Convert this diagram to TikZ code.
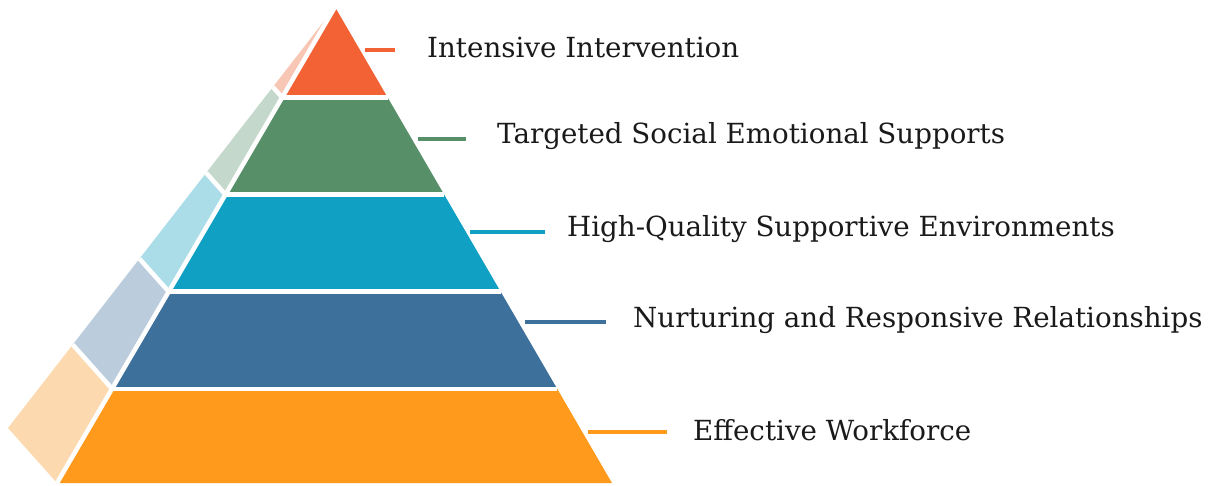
\documentclass[tikz,border=0pt]{standalone}
\usepackage{fontspec}
\setmainfont{DejaVu Serif}
\usetikzlibrary{calc}
\definecolor{cA}{HTML}{F26235}\definecolor{lA}{HTML}{F8C6B5}
\definecolor{cB}{HTML}{578F68}\definecolor{lB}{HTML}{C4D8CB}
\definecolor{cC}{HTML}{10A0C4}\definecolor{lC}{HTML}{ABDDE8}
\definecolor{cD}{HTML}{3D719C}\definecolor{lD}{HTML}{BBCCDD}
\definecolor{cE}{HTML}{FF9A1C}\definecolor{lE}{HTML}{FCD9AE}
\definecolor{txt}{HTML}{1A1A1A}
\begin{document}
\begin{tikzpicture}[x=1pt,y=-1pt,
  gap/.style={draw=white,line width=4.5pt},
  conn/.style={line width=4pt},
  lbl/.style={anchor=west,inner sep=0pt,text=txt,font=\fontsize{27.7}{32}\selectfont}]
\useasboundingbox (0,0) rectangle (1211,485);
\coordinate (A) at (335,7);
\coordinate (B) at (8,428);
\coordinate (C) at (57,483);
\coordinate (D) at (612,483);
\def\tlist{0/0.19/cA/lA,0.19/0.394/cB/lB,0.394/0.598/cC/lC,0.598/0.802/cD/lD,0.802/1/cE/lE}
\foreach \ta/\tb/\cf/\cs in \tlist {
  \fill[\cf] ($(A)!\ta!(C)$) -- ($(A)!\ta!(D)$) -- ($(A)!\tb!(D)$) -- ($(A)!\tb!(C)$) -- cycle;
  \fill[\cs] ($(A)!\ta!(B)$) -- ($(A)!\ta!(C)$) -- ($(A)!\tb!(C)$) -- ($(A)!\tb!(B)$) -- cycle;
}
\draw[gap] (A) -- (C);
\foreach \t in {0.19,0.394,0.598,0.802} {
  \draw[gap] ($(A)!\t!(C)$) -- ($(A)!\t!(D)$);
  \draw[gap] ($(A)!\t!(B)$) -- ($(A)!\t!(C)$);
}
% labels
\node[lbl] (l1) at (427,48) {Intensive Intervention};
\node[lbl] (l2) at (497,136) {Targeted Social Emotional Supports};
\node[lbl] (l3) at (567,229) {High-Quality Supportive Environments};
\node[lbl] (l4) at (633,320) {Nurturing and Responsive Relationships};
\node[lbl] (l5) at (693,430) {Effective Workforce};
% connectors
\coordinate (c1a) at (365,50); \coordinate (c1b) at (395,50);
\coordinate (c2a) at (418,139); \coordinate (c2b) at (466,139);
\coordinate (c3a) at (470,232); \coordinate (c3b) at (545,232);
\coordinate (c4a) at (525,322); \coordinate (c4b) at (606,322);
\coordinate (c5a) at (588,432); \coordinate (c5b) at (667,432);
\draw[conn,cA] (c1a) -- (c1b);
\draw[conn,cB] (c2a) -- (c2b);
\draw[conn,cC] (c3a) -- (c3b);
\draw[conn,cD] (c4a) -- (c4b);
\draw[conn,cE] (c5a) -- (c5b);
\end{tikzpicture}
\end{document}
